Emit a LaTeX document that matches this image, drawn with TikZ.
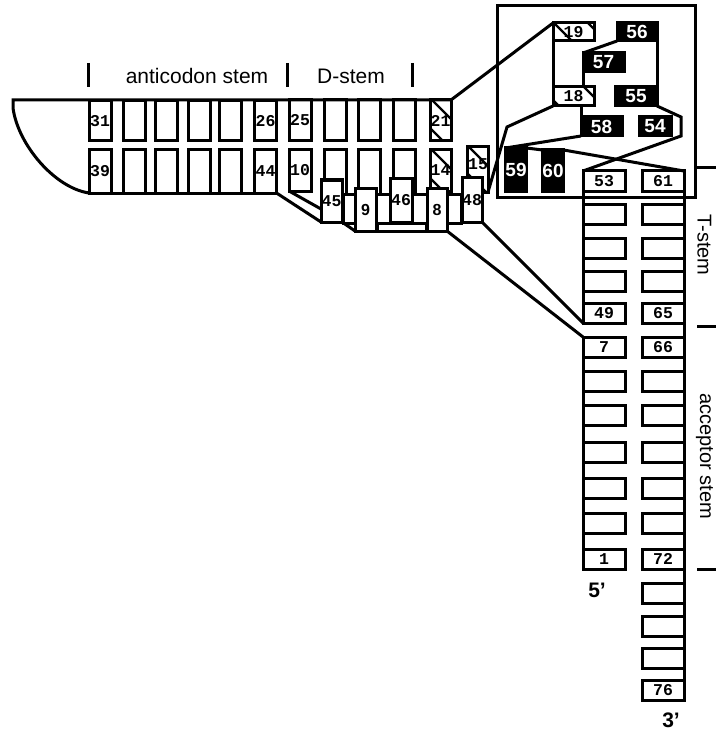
\documentclass[tikz,border=0pt]{standalone}
\usepackage{fontspec}
\setmainfont{Liberation Sans}
\newfontfamily\numfont{Liberation Mono}
\usetikzlibrary{calc}
\newcommand\hatchlines[1]{\foreach \d in {#1} \draw[line width=2.2pt] ($(path picture bounding box.north west)+(\d-80,-80)$) -- ($(path picture bounding box.north west)+(\d+80,80)$);}
\newcommand\bxn[7]{\node[#1, minimum width=#5pt, minimum height=#6pt] (#2) at (#3,#4) {#7};}
\begin{document}
\begin{tikzpicture}[x=1pt,y=-1pt,
  every node/.style={inner sep=0pt, outer sep=0pt},
  bx/.style={draw, line width=3pt, fill=white, font=\numfont\bfseries\fontsize{16.5}{16.5}\selectfont},
  bxs/.style={bx, font=\bfseries\fontsize{16}{16}\selectfont},
  blk/.style={draw, line width=3pt, fill=black, text=white, font=\bfseries\fontsize{19}{19}\selectfont},
  hb/.style={bx, path picture={\hatchlines{#1}}},
  ln/.style={line width=3pt, line join=miter},
  lab/.style={font=\fontsize{21}{21}\selectfont},
  rlab/.style={font=\fontsize{20}{20}\selectfont, rotate=-90},
  prime/.style={font=\bfseries\fontsize{21}{21}\selectfont}]
\fill[white] (0,0) rectangle (716,730);
\useasboundingbox (0,0) rectangle (716,730);

% frame of the T-loop / D-loop region
\draw[ln] (497,6) rectangle (695,197);

% ticks and stem labels
\draw[ln] (88,63) -- (88,87);
\draw[ln] (287,63) -- (287,87);
\draw[ln] (412,63) -- (412,87);
\node[lab] (lac) at (197,76) {anticodon stem};
\node[lab] (ld) at (351,76) {D-stem};
\draw[ln] (695,168) -- (716,168);
\draw[ln] (697,326) -- (716,326);
\draw[ln] (697,569) -- (716,569);
\node[rlab] (lt) at (704.5,245) {T-stem};
\node[rlab] (lacc) at (704.5,456) {acceptor stem};

% anticodon stem boxes
\bxn{bx}{b31}{100}{121}{22}{40}{31}
\bxn{bx}{a2t}{134}{121}{22}{40}{}
\bxn{bx}{a3t}{166}{121}{22}{40}{}
\bxn{bx}{a4t}{199}{121}{22}{40}{}
\bxn{bx}{a5t}{230.5}{121}{22}{40}{}
\bxn{bx}{b26}{265.5}{121}{22}{40}{26}
\bxn{bx}{b39}{100}{171.5}{22}{43}{39}
\bxn{bx}{a2b}{134}{171.5}{22}{43}{}
\bxn{bx}{a3b}{166}{171.5}{22}{43}{}
\bxn{bx}{a4b}{199}{171.5}{22}{43}{}
\bxn{bx}{a5b}{230.5}{171.5}{22}{43}{}
\bxn{bx}{b44}{265.5}{171.5}{22}{43}{44}

% D-stem boxes
\bxn{bx}{b25}{300}{120.5}{22}{41}{25}
\bxn{bx}{d2t}{335}{120.5}{22}{41}{}
\bxn{bx}{d3t}{369}{120.5}{22}{41}{}
\bxn{bx}{d4t}{404}{120.5}{22}{41}{}
\bxn{hb={2,-28}}{b21}{440.5}{120.5}{21}{41}{21}
\bxn{bx}{b10}{300}{170.5}{22}{41}{10}
\bxn{bx}{d2b}{335}{174.5}{22}{49}{}
\bxn{bx}{d3b}{369}{174.5}{22}{49}{}
\bxn{bx}{d4b}{404}{174.5}{22}{49}{}
\bxn{hb={2,-28}}{b14}{440.5}{170.5}{21}{41}{14}
\bxn{hb={2,-26}}{b15}{477.5}{169.5}{21}{45}{}
\node[font=\numfont\bfseries\fontsize{16.5}{16.5}\selectfont] (t15) at (478,164) {15};

% outer hull of the anticodon arm
\draw[ln] (b39.south west) .. controls (55,188) and (18,145) .. (13,108) -- (13,100) -- (b21.north east);
\draw[ln] (b39.south west) -- (b44.south east);

% backbone strips under the tertiary bases
\draw[ln, fill=white] (343,194) rectangle (461,223);
\draw[ln, fill=white] (377,223) rectangle (426,231);

% tertiary bases
\bxn{bx}{b45}{331.5}{201}{21}{42}{45}
\bxn{bxs}{b9}{365.5}{209.5}{21}{43}{9}
\bxn{bx}{b46}{401}{200.5}{22}{43}{46}
\bxn{bxs}{b8}{437}{209.5}{20}{43}{8}
\bxn{bx}{b48}{472}{200}{20}{44}{48}

% T-loop / D-loop interaction region
\bxn{hb={1,35}}{b19}{573.5}{32}{41}{18}{19}
\bxn{blk}{b56}{637}{32}{40}{18}{56}
\bxn{blk}{b57}{603.5}{62.5}{41}{19}{57}
\bxn{hb={-13,31}}{b18}{573.5}{96.5}{41}{19}{18}
\bxn{blk}{b55}{636}{96.5}{42}{19}{55}
\bxn{blk}{b58}{601.5}{126.5}{41}{19}{58}
\bxn{blk}{b54}{655}{126.5}{32}{19}{54}
\bxn{blk}{b59}{516}{169.5}{20}{43}{59}
\bxn{blk}{b60}{553}{170.5}{20}{41}{60}

% T-stem and acceptor stem
\bxn{bx}{b53}{604}{181}{42}{20}{53}
\bxn{bx}{l2}{604}{214}{42}{20}{}
\bxn{bx}{l3}{604}{248}{42}{20}{}
\bxn{bx}{l4}{604}{281}{42}{20}{}
\bxn{bx}{b49}{604}{313}{42}{20}{49}
\bxn{bx}{b7}{604}{347}{42}{20}{7}
\bxn{bx}{l7}{604}{381}{42}{20}{}
\bxn{bx}{l8}{604}{415}{42}{20}{}
\bxn{bx}{l9}{604}{452}{42}{20}{}
\bxn{bx}{l10}{604}{488}{42}{20}{}
\bxn{bx}{l11}{604}{523}{42}{20}{}
\bxn{bx}{b1}{604}{559}{42}{20}{1}
\bxn{bx}{b61}{663}{181}{42}{20}{61}
\bxn{bx}{r2}{663}{214}{42}{20}{}
\bxn{bx}{r3}{663}{248}{42}{20}{}
\bxn{bx}{r4}{663}{281}{42}{20}{}
\bxn{bx}{b65}{663}{313}{42}{20}{65}
\bxn{bx}{b66}{663}{347}{42}{20}{66}
\bxn{bx}{r7}{663}{381}{42}{20}{}
\bxn{bx}{r8}{663}{415}{42}{20}{}
\bxn{bx}{r9}{663}{452}{42}{20}{}
\bxn{bx}{r10}{663}{488}{42}{20}{}
\bxn{bx}{r11}{663}{523}{42}{20}{}
\bxn{bx}{b72}{663}{559}{42}{20}{72}
\bxn{bx}{r13}{663}{593}{42}{20}{}
\bxn{bx}{r14}{663}{626}{42}{20}{}
\bxn{bx}{r15}{663}{658}{42}{20}{}
\bxn{bx}{b76}{663}{690}{42}{20}{76}
\node[prime] (p5) at (597,590) {5'};
\node[prime, anchor=base] (p3) at (671,727) {3'};

% backbone lines of the stems
\draw[ln] (b53.north west) -- (b49.south west);
\draw[ln] (b7.north west) -- (b1.south west);
\draw[ln] (b61.north east) -- (b76.south east);

% connectors
\coordinate (k1) at (681,117);
\coordinate (k2) at (681,136);
\coordinate (k3) at (507,127);
\draw[ln] (b21.north east) -- (b19.north west);
\draw[ln] (b44.south east) -- (b45.south west);
\draw[ln] (b10.south west) -- ([yshift=13pt]b45.south west);
\draw[ln] (b45.south east) -- (b9.south west);
\draw[ln] (b48.south east) -- (b49.south west);
\draw[ln] (b8.south east) -- (b7.north west);
\draw[ln] (b19.south west) -- (b18.north west);
\draw[ln] (b57.south west) -- (b57.south west |- b18.north);
\draw[ln] (b56.south west) -- (b57.north west);
\draw[ln] (b56.south east) -- (b55.north east);
\draw[ln] (b55.south east) -- (k1) -- (k2) -- (b53.north west);
\draw[ln] (b58.north west |- b18.south) -- (b58.north west);
\draw[ln] (b58.south west) -- (b59.north west);
\draw[ln] (b59.north east) -- (b60.north west);
\draw[ln] (b60.north east) -- (b61.north east);
\draw[ln] (b18.south west) -- (k3) -- (b15.south east);
\end{tikzpicture}
\end{document}
